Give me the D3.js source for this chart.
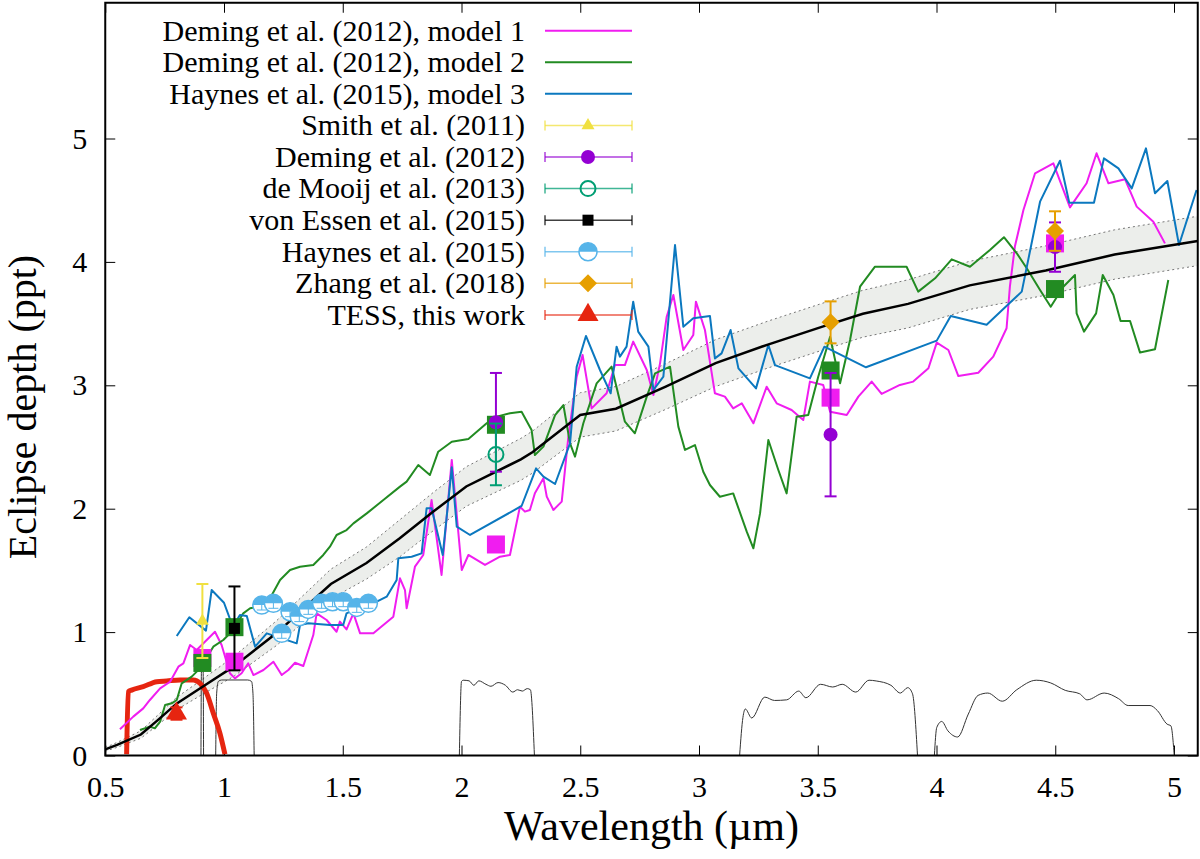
<!DOCTYPE html>
<html>
<head>
<meta charset="utf-8">
<script src="https://cdn.jsdelivr.net/npm/d3@7"></script>
</head>
<body style="margin:0">
<script>
// ---- data (wavelength in micron, eclipse depth in ppt) ----

const xTicks = [0.5, 1, 1.5, 2, 2.5, 3, 3.5, 4, 4.5, 5];
const yTicks = [0, 1, 2, 3, 4, 5];

const legendLabels = ["Deming et al. (2012), model 1", "Deming et al. (2012), model 2",
  "Haynes et al. (2015), model 3", "Smith et al. (2011)", "Deming et al. (2012)",
  "de Mooij et al. (2013)", "von Essen et al. (2015)", "Haynes et al. (2015)",
  "Zhang et al. (2018)", "TESS, this work"];

// best-fit model and its 1-sigma envelope
const bestFit = [[0.5,0.05],[0.55,0.086],[0.65,0.17],[0.72,0.285],[0.8,0.42],[0.9,0.545],[1.04,0.72],
  [1.22,0.99],[1.45,1.39],[1.6,1.56],[1.74,1.76],[1.88,1.975],[2.02,2.18],[2.25,2.4],[2.3,2.46],
  [2.5,2.76],[2.65,2.81],[2.86,2.99],[3.07,3.18],[3.29,3.33],[3.52,3.475],[3.69,3.58],[3.88,3.66],
  [4.14,3.81],[4.46,3.93],[4.75,4.06],[5.1,4.17]];
const bandLo = [0.035,0.066,0.14,0.245,0.37,0.485,0.64,0.89,1.27,1.43,1.61,1.82,2.02,2.23,2.29,
  2.58,2.63,2.805,2.99,3.14,3.285,3.39,3.465,3.615,3.73,3.86,3.97];
const bandHi = [0.065,0.106,0.2,0.325,0.47,0.605,0.8,1.09,1.51,1.69,1.91,2.13,2.34,2.57,2.63,
  2.94,2.99,3.175,3.37,3.52,3.665,3.77,3.855,4.005,4.13,4.26,4.37];

const model1 = [[0.562,0.212],[0.618,0.315],[0.66,0.382],[0.688,0.45],[0.731,0.544],[0.773,0.598],
  [0.808,0.72],[0.829,0.747],[0.857,0.895],[0.885,0.855],[0.962,1.003],[0.99,0.895],[1.025,0.666],
  [1.046,0.625],[1.074,0.666],[1.102,0.747],[1.124,0.652],[1.166,0.693],[1.208,0.76],[1.243,0.652],
  [1.271,0.693],[1.299,0.752],[1.334,0.725],[1.376,0.976],[1.39,1.152],[1.432,1.098],[1.474,1.003],
  [1.488,1.085],[1.516,1.022],[1.545,1.152],[1.573,0.99],[1.629,0.99],[1.713,1.125],[1.741,1.436],
  [1.762,1.341],[1.769,1.193],[1.804,1.53],[1.839,1.625],[1.874,2.07],[1.916,1.463],[1.959,2.395],
  [2.001,1.503],[2.029,1.625],[2.099,1.544],[2.162,1.611],[2.204,1.625],[2.246,2.016],[2.267,1.976],
  [2.288,1.99],[2.309,2.125],[2.345,2.246],[2.359,2.098],[2.387,1.99],[2.422,2.057],[2.45,2.584],
  [2.485,3.07],[2.51,3.245],[2.548,2.813],[2.611,2.935],[2.646,3.164],[2.688,3.164],[2.723,3.354],
  [2.78,3.124],[2.808,2.921],[2.836,3.178],[2.864,3.556],[2.892,3.732],[2.934,3.286],[2.976,3.408],
  [2.987,3.678],[3.025,3.448],[3.067,2.935],[3.109,2.908],[3.144,2.813],[3.18,2.854],[3.229,2.692],
  [3.285,2.989],[3.327,2.854],[3.39,2.8],[3.439,2.719],[3.467,3.03],[3.523,3.003],[3.552,2.786],
  [3.622,2.759],[3.671,2.908],[3.727,3.03],[3.769,2.93],[3.846,3.003],[3.902,3.03],[3.966,3.138],
  [4.001,3.346],[4.05,3.286],[4.092,3.075],[4.176,3.102],[4.239,3.232],[4.295,3.462],[4.309,3.799],
  [4.33,4.124],[4.366,4.421],[4.415,4.718],[4.492,4.799],[4.562,4.442],[4.632,4.637],[4.674,4.88],
  [4.724,4.637],[4.794,4.669],[4.843,4.448],[4.913,4.326],[4.962,4.15]];

const model2 = [[0.646,0.207],[0.688,0.234],[0.709,0.22],[0.731,0.274],[0.752,0.409],[0.78,0.423],
  [0.801,0.45],[0.822,0.585],[0.864,0.639],[0.899,0.706],[0.955,0.882],[0.997,0.936],[1.039,1.017],
  [1.081,1.152],[1.11,1.193],[1.152,1.206],[1.194,1.274],[1.236,1.422],[1.278,1.503],[1.32,1.53],
  [1.376,1.544],[1.418,1.625],[1.446,1.692],[1.474,1.787],[1.516,1.827],[1.545,1.881],[1.601,1.962],
  [1.671,2.07],[1.741,2.179],[1.769,2.219],[1.818,2.354],[1.867,2.273],[1.902,2.462],[1.959,2.543],
  [2.029,2.565],[2.106,2.692],[2.148,2.746],[2.204,2.773],[2.253,2.786],[2.295,2.638],[2.309,2.435],
  [2.345,2.503],[2.394,2.759],[2.429,2.84],[2.457,2.53],[2.478,2.422],[2.513,2.692],[2.569,3.016],
  [2.632,3.151],[2.688,2.705],[2.73,2.611],[2.78,2.908],[2.815,3.097],[2.878,3.151],[2.913,2.665],
  [2.941,2.476],[2.983,2.516],[3.018,2.3],[3.046,2.192],[3.088,2.097],[3.144,2.124],[3.201,1.814],
  [3.229,1.679],[3.257,1.962],[3.292,2.557],[3.334,2.314],[3.369,2.124],[3.411,2.746],[3.46,2.759],
  [3.502,3.07],[3.552,3.394],[3.594,3.016],[3.636,3.367],[3.678,3.799],[3.741,3.961],[3.874,3.961],
  [3.923,3.759],[3.994,3.867],[4.064,4.021],[4.141,3.961],[4.225,4.097],[4.284,4.2],[4.338,4.07],
  [4.38,3.948],[4.436,3.772],[4.481,3.637],[4.534,3.799],[4.583,3.894],[4.59,3.583],[4.621,3.435],
  [4.672,3.583],[4.7,3.894],[4.745,3.732],[4.775,3.521],[4.815,3.521],[4.857,3.265],[4.92,3.292],
  [4.976,3.853]];

const model3 = [[0.801,0.968],[0.854,1.12],[0.924,1.012],[0.948,1.341],[1.0,1.238],[1.037,1.044],
  [1.067,1.139],[1.096,1.13],[1.131,0.882],[1.18,0.99],[1.243,0.949],[1.306,0.909],[1.32,1.057],
  [1.355,1.071],[1.446,1.057],[1.502,1.057],[1.516,1.152],[1.559,1.193],[1.601,1.206],[1.685,1.287],
  [1.727,1.422],[1.734,1.598],[1.79,1.611],[1.832,1.638],[1.853,2.003],[1.874,2.003],[1.921,1.625],
  [1.959,2.335],[1.98,1.854],[2.036,1.787],[2.253,2.022],[2.314,2.327],[2.345,2.26],[2.394,2.2],
  [2.457,2.53],[2.485,3.151],[2.524,3.4],[2.583,3.124],[2.628,2.935],[2.653,3.313],[2.667,3.232],
  [2.695,3.313],[2.723,3.678],[2.744,3.435],[2.787,3.313],[2.808,2.962],[2.85,3.07],[2.899,4.137],
  [2.934,3.475],[2.976,3.543],[3.046,3.562],[3.067,3.218],[3.095,3.259],[3.133,3.448],[3.166,3.137],
  [3.24,2.975],[3.292,3.327],[3.32,3.164],[3.467,3.056],[3.528,3.313],[3.703,3.146],[4.001,3.362],
  [4.06,3.562],[4.211,3.491],[4.359,3.759],[4.436,4.488],[4.52,4.82],[4.559,4.48],[4.663,4.48],
  [4.705,4.839],[4.766,4.758],[4.822,4.596],[4.882,4.92],[4.92,4.556],[4.972,4.656],[5.021,4.137],
  [5.095,4.583]];

// band-integrated model values
const model1Band = [[0.909,0.79],[1.044,0.76],[2.145,1.71],[3.554,2.9],[4.499,4.15]];
const model2Band = [[0.909,0.75],[1.044,1.04],[2.145,2.68],[3.554,3.12],[4.499,3.78]];

// observations: [wavelength, depth, error]
const smith = [[0.909,1.09,0.30]];
const deming = [[2.145,2.70,0.40],[3.554,2.60,0.50],[4.499,4.12,0.20]];
const deMooij = [[2.145,2.44,0.25]];
const vonEssen = [[1.044,1.03,0.34]];
const haynes = [[1.159,1.219,0.04],[1.208,1.233,0.04],[1.243,0.99,0.04],[1.278,1.165,0.04],
  [1.317,1.125,0.04],[1.355,1.184,0.04],[1.411,1.233,0.04],[1.457,1.246,0.04],[1.502,1.246,0.04],
  [1.559,1.2,0.04],[1.608,1.233,0.04]];
const zhang = [[3.554,3.51,0.17],[4.499,4.25,0.16]];
const tess = [[0.80,0.34,0.05]];

// filter response curves (arbitrary scale)
const tessResp = [[0.59,0.01],[0.597,0.517],[0.611,0.53],[0.66,0.558],[0.717,0.598],[0.759,0.604],
  [0.815,0.612],[0.871,0.612],[0.899,0.585],[0.927,0.504],[0.955,0.342],[0.983,0.18],[1.004,0.01]];
const narrowResp = [[0.903,0],[0.905,0.7],[0.912,0.7],[0.914,0]];
const zResp = [[0.965,0],[0.969,0.5],[0.976,0.6],[0.99,0.612],[1.1,0.612],[1.116,0.6],[1.122,0.5],[1.127,0]];
const ksResp = [[1.991,0],[2.0,0.6],[2.007,0.61],[2.032,0.605],[2.052,0.569],[2.073,0.605],
  [2.103,0.577],[2.124,0.561],[2.154,0.591],[2.185,0.569],[2.216,0.514],[2.236,0.533],[2.256,0.522],
  [2.277,0.542],[2.29,0.533],[2.307,0]];
const irac1Resp = [[3.171,0],[3.185,0.309],[3.195,0.377],[3.222,0.304],[3.277,0.473],[3.318,0.446],
  [3.369,0.451],[3.42,0.522],[3.45,0.468],[3.512,0.577],[3.563,0.555],[3.603,0.577],[3.66,0.514],
  [3.716,0.61],[3.746,0.604],[3.808,0.569],[3.848,0.506],[3.879,0.55],[3.899,0.5],[3.92,0]];
const irac2Resp = [[3.991,0],[4.001,0.227],[4.022,0.276],[4.048,0.2],[4.089,0.15],[4.134,0.336],
  [4.175,0.487],[4.216,0.506],[4.277,0.44],[4.338,0.533],[4.42,0.61],[4.481,0.588],[4.542,0.528],
  [4.603,0.5],[4.634,0.451],[4.706,0.506],[4.767,0.46],[4.807,0.405],[4.899,0.405],[4.93,0.364],
  [4.971,0.254],[4.987,0.24],[5.001,0]];

// ---- drawing ----
const col = {
  m1: "#f01df0", m2: "#228b22", m3: "#0b78bf", smith: "#f0e040", deming: "#9400d3",
  mooij: "#009e73", essen: "#000000", haynes: "#56b4e9", zhang: "#e69f00", tess: "#e62510"
};

const svg = d3.select("body").append("svg").attr("width", 1200).attr("height", 859);
const x = d3.scaleLinear().domain([0.5, 5.1]).range([105.25, 1197.75]);
const y = d3.scaleLinear().domain([0, 6.1]).range([755.5, 2.76]);

// text first: titles, legend labels, tick labels
svg.append("text").attr("x", (x(0.5) + x(5.1)) / 2).attr("y", 840).attr("font-size", 42)
    .attr("text-anchor", "middle")
    .style("font-family", '"Liberation Serif"')
    .text("Wavelength (µm)");
svg.append("text").attr("transform", "translate(36,407) rotate(-90)").attr("font-size", 40)
    .attr("text-anchor", "middle")
    .style("font-family", '"Liberation Serif"')
    .text("Eclipse depth (ppt)");

legendLabels.forEach((lab, i) => {
  svg.append("text").attr("x", 525).attr("y", 40.5 + 31.58 * i).attr("font-size", 30)
      .attr("text-anchor", "end")
      .style("font-family", '"Liberation Serif"')
      .text(lab);
});

svg.append("g")
    .attr("transform", `translate(0,${y(0)})`)
    .call(d3.axisBottom(x).tickValues(xTicks).tickFormat(d => String(d))
      .tickSizeInner(-10).tickSizeOuter(0).tickPadding(20))
    .call(g => g.attr("font-family", "Liberation Serif").attr("font-size", 30));
svg.append("g")
    .attr("transform", `translate(${x(0.5)},0)`)
    .call(d3.axisLeft(y).tickValues(yTicks).tickFormat(d => String(d))
      .tickSizeInner(-10).tickSizeOuter(0).tickPadding(18))
    .call(g => g.attr("font-family", "Liberation Serif").attr("font-size", 30));
svg.append("g")
    .attr("transform", `translate(0,${y(6.1)})`)
    .call(d3.axisTop(x).tickValues(xTicks).tickFormat("").tickSizeInner(-10).tickSizeOuter(0));
svg.append("g")
    .attr("transform", `translate(${x(5.1)},0)`)
    .call(d3.axisRight(y).tickValues(yTicks).tickFormat("").tickSizeInner(-10).tickSizeOuter(0));
svg.selectAll(".domain").remove();
svg.selectAll(".tick line").attr("stroke", "#000");

const line = d3.line().x(d => x(d[0])).y(d => y(d[1]));
const smooth = d3.line().x(d => x(d[0])).y(d => y(d[1])).curve(d3.curveMonotoneX);

// envelope
const band = bestFit.map((d, i) => ({x: d[0], lo: bandLo[i], hi: bandHi[i]}));
svg.append("path")
    .datum(band)
    .attr("fill", "#eceeeb")
    .attr("d", d3.area().x(d => x(d.x)).y0(d => y(d.lo)).y1(d => y(d.hi)));
["lo", "hi"].forEach(k => {
  svg.append("path")
      .datum(band)
      .attr("fill", "none")
      .attr("stroke", "#777")
      .attr("stroke-dasharray", "2,3")
      .attr("d", d3.line().x(d => x(d.x)).y(d => y(d[k])));
});

// filter curves
[narrowResp, zResp, ksResp, irac1Resp, irac2Resp].forEach(r => {
  svg.append("path")
      .datum(r)
      .attr("fill", "none")
      .attr("stroke", "#333")
      .attr("d", smooth);
});
svg.append("path")
    .datum(tessResp)
    .attr("fill", "none")
    .attr("stroke", col.tess)
    .attr("stroke-width", 5)
    .attr("d", smooth);

// model spectra
[[model1, col.m1], [model2, col.m2], [model3, col.m3]].forEach(([data, c]) => {
  svg.append("path")
      .datum(data)
      .attr("fill", "none")
      .attr("stroke", c)
      .attr("stroke-width", 2)
      .attr("stroke-linejoin", "round")
      .attr("d", line);
});
svg.append("path")
    .datum(bestFit)
    .attr("fill", "none")
    .attr("stroke", "#000")
    .attr("stroke-width", 2.5)
    .attr("d", line);

// markers
function marker(g, type, cx, cy, c, s) {
  if (type === "square") {
    g.append("rect").attr("x", cx - s / 2).attr("y", cy - s / 2)
      .attr("width", s).attr("height", s).attr("fill", c);
  } else if (type === "circle") {
    g.append("circle").attr("cx", cx).attr("cy", cy).attr("r", s / 2).attr("fill", c);
  } else if (type === "open") {
    g.append("circle").attr("cx", cx).attr("cy", cy).attr("r", s / 2)
      .attr("fill", "none").attr("stroke", c).attr("stroke-width", 2);
  } else if (type === "half") {
    const r = s / 2;
    g.append("circle").attr("cx", cx).attr("cy", cy).attr("r", r)
      .attr("fill", "#fff").attr("stroke", c).attr("stroke-width", 1.5);
    g.append("path")
      .attr("d", `M${cx - r},${cy} A${r},${r} 0 0 1 ${cx + r},${cy} Z`)
      .attr("fill", c);
  } else if (type === "triangle") {
    const h = s * Math.sqrt(3) / 2;
    g.append("path")
      .attr("d", `M${cx},${cy - h * 2 / 3} L${cx + s / 2},${cy + h / 3} L${cx - s / 2},${cy + h / 3} Z`)
      .attr("fill", c);
  } else if (type === "diamond") {
    const r = s / 2;
    g.append("path")
      .attr("d", `M${cx},${cy - r} L${cx + r},${cy} L${cx},${cy + r} L${cx - r},${cy} Z`)
      .attr("fill", c);
  }
}

function errBar(g, cx, y0, y1, c, cap, w) {
  g.append("line").attr("x1", cx).attr("x2", cx).attr("y1", y0).attr("y2", y1)
    .attr("stroke", c).attr("stroke-width", w);
  [y0, y1].forEach(v => {
    g.append("line").attr("x1", cx - cap / 2).attr("x2", cx + cap / 2).attr("y1", v).attr("y2", v)
      .attr("stroke", c).attr("stroke-width", w);
  });
}

const pts = svg.append("g");
model1Band.forEach(d => marker(pts, "square", x(d[0]), y(d[1]), col.m1, 18));
model2Band.forEach(d => marker(pts, "square", x(d[0]), y(d[1]), col.m2, 18));

const series = [
  {data: smith, c: col.smith, type: "triangle", s: 13, cap: 12},
  {data: deming, c: col.deming, type: "circle", s: 14, cap: 12},
  {data: deMooij, c: col.mooij, type: "open", s: 15, cap: 12},
  {data: vonEssen, c: col.essen, type: "square", s: 11, cap: 12},
  {data: haynes, c: col.haynes, type: "half", s: 18, cap: 10},
  {data: zhang, c: col.zhang, type: "diamond", s: 18, cap: 12},
  {data: tess, c: col.tess, type: "triangle", s: 21, cap: 12}
];
series.forEach(sr => {
  sr.data.forEach(d => {
    const cx = x(d[0]);
    if (sr.type === "half") {
      marker(pts, sr.type, cx, y(d[1]), sr.c, sr.s);
      errBar(pts, cx, y(d[1] + d[2]), y(d[1] - d[2]), sr.c, sr.cap, 1);
    } else {
      errBar(pts, cx, y(d[1] + d[2]), y(d[1] - d[2]), sr.c, sr.cap, 2);
      marker(pts, sr.type, cx, y(d[1]), sr.c, sr.s);
    }
  });
});

// frame
svg.append("rect")
    .attr("x", x(0.5)).attr("y", y(6.1))
    .attr("width", x(5.1) - x(0.5)).attr("height", y(0) - y(6.1))
    .attr("fill", "none").attr("stroke", "#000").attr("stroke-width", 2);

// legend samples
const legKinds = [
  {c: col.m1}, {c: col.m2}, {c: col.m3},
  {c: col.smith, type: "triangle", s: 13},
  {c: col.deming, type: "circle", s: 14},
  {c: col.mooij, type: "open", s: 15},
  {c: col.essen, type: "square", s: 11},
  {c: col.haynes, type: "half", s: 18},
  {c: col.zhang, type: "diamond", s: 18},
  {c: col.tess, type: "triangle", s: 21}
];
const leg = svg.append("g");
legKinds.forEach((k, i) => {
  const cy = 30.7 + 31.58 * i;
  if (!k.type) {
    leg.append("line").attr("x1", 545).attr("x2", 632).attr("y1", cy).attr("y2", cy)
      .attr("stroke", k.c).attr("stroke-width", 2);
  } else {
    leg.append("line").attr("x1", 545).attr("x2", 632).attr("y1", cy).attr("y2", cy)
      .attr("stroke", k.c).attr("stroke-width", 1.5).attr("stroke-opacity", 0.75);
    [545, 632].forEach(v => {
      leg.append("line").attr("x1", v).attr("x2", v).attr("y1", cy - 5).attr("y2", cy + 5)
        .attr("stroke", k.c).attr("stroke-width", 1.5).attr("stroke-opacity", 0.75);
    });
    marker(leg, k.type, 588, cy, k.c, k.s);
  }
});
</script>
</body>
</html>
